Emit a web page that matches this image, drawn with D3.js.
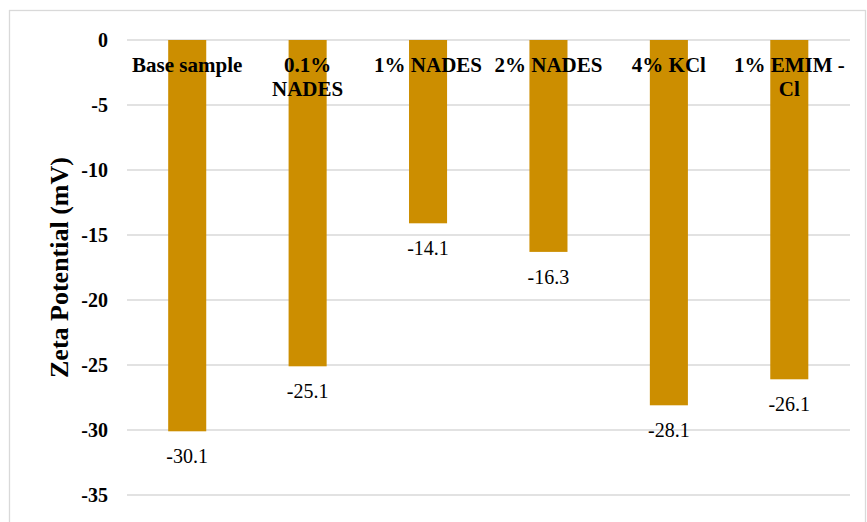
<!DOCTYPE html>
<html>
<head>
<meta charset="utf-8">
<script src="https://cdn.jsdelivr.net/npm/d3@7"></script>
<style>
  html, body { margin: 0; padding: 0; background: #ffffff; }
  svg { display: block; }
  text { font-family: "Liberation Serif", "Times New Roman", serif; fill: #000; }
</style>
</head>
<body>
<script>
// Zeta potential of each sample (mV)
const categories = ["Base sample", "0.1% NADES", "1% NADES", "2% NADES", "4% KCl", "1% EMIM - Cl"];
const zeta = [-30.1, -25.1, -14.1, -16.3, -28.1, -26.1];
const yTicks = [0, -5, -10, -15, -20, -25, -30, -35];
const yTitle = "Zeta Potential (mV)";

const W = 867, H = 522;
const plot = { left: 127, right: 849.5, top: 40, bottom: 495 };

// plain hyphen-minus, as in the original labels
const fmtTick = d => String(d);
const fmtVal = d => d.toFixed(1);

const svg = d3.select("body").append("svg")
  .attr("width", W).attr("height", H);

svg.append("rect").attr("width", W).attr("height", H).attr("fill", "#fff");

// chart frame
svg.append("rect")
  .attr("x", 9.5).attr("y", 10.5)
  .attr("width", 856).attr("height", 520)
  .attr("fill", "none").attr("stroke", "#d9d9d9").attr("stroke-width", 1.3);

const x = d3.scaleBand()
  .domain(categories)
  .range([plot.left, plot.right])
  .paddingInner(0.684)
  .paddingOuter(0.342);

const y = d3.scaleLinear()
  .domain([0, -35])
  .range([plot.top, plot.bottom]);

// horizontal gridlines
svg.append("g")
  .selectAll("line")
  .data(yTicks)
  .join("line")
  .attr("x1", plot.left).attr("x2", plot.right + 0.5)
  .attr("y1", d => y(d)).attr("y2", d => y(d))
  .attr("stroke", "#d9d9d9").attr("stroke-width", 1.3);

// y axis tick labels
const yAxis = d3.axisLeft(y).tickValues(yTicks).tickSize(0).tickPadding(0).tickFormat(fmtTick);
const gy = svg.append("g")
  .attr("transform", `translate(108,0)`)
  .call(yAxis);
gy.select(".domain").remove();
gy.selectAll("text")
  .attr("font-family", '"Liberation Serif", "Times New Roman", serif')
  .attr("font-size", 20)
  .attr("font-weight", "bold")
  .attr("fill", "#000");

// y axis title
svg.append("text")
  .attr("transform", `translate(68,${(plot.top + plot.bottom) / 2}) rotate(-90)`)
  .attr("text-anchor", "middle")
  .attr("font-size", 26)
  .attr("font-weight", "bold")
  .text(yTitle);

// bars
svg.append("g")
  .selectAll("rect")
  .data(zeta)
  .join("rect")
  .attr("x", (d, i) => x(categories[i]))
  .attr("width", x.bandwidth())
  .attr("y", y(0))
  .attr("height", d => y(d) - y(0))
  .attr("fill", "#cc8e00");

// value labels under each bar end
svg.append("g")
  .selectAll("text")
  .data(zeta)
  .join("text")
  .attr("x", (d, i) => x(categories[i]) + x.bandwidth() / 2)
  .attr("y", d => y(d) + 32)
  .attr("text-anchor", "middle")
  .attr("font-size", 20)
  .text(fmtVal);

// category labels, word-wrapped near the top of the plot
const maxLine = 116;
const catG = svg.append("g");
categories.forEach(name => {
  const cx = x(name) + x.bandwidth() / 2;
  const t = catG.append("text")
    .attr("text-anchor", "middle")
    .attr("font-size", 21)
    .attr("font-weight", "bold");
  const words = name.split(" ");
  let line = [];
  let lineNo = 0;
  let tspan = t.append("tspan").attr("x", cx).attr("y", 72);
  words.forEach(w => {
    line.push(w);
    tspan.text(line.join(" "));
    if (tspan.node().getComputedTextLength() > maxLine && line.length > 1) {
      line.pop();
      tspan.text(line.join(" "));
      line = [w];
      lineNo++;
      tspan = t.append("tspan").attr("x", cx).attr("y", 72 + lineNo * 24).text(w);
    }
  });
});
</script>
</body>
</html>
